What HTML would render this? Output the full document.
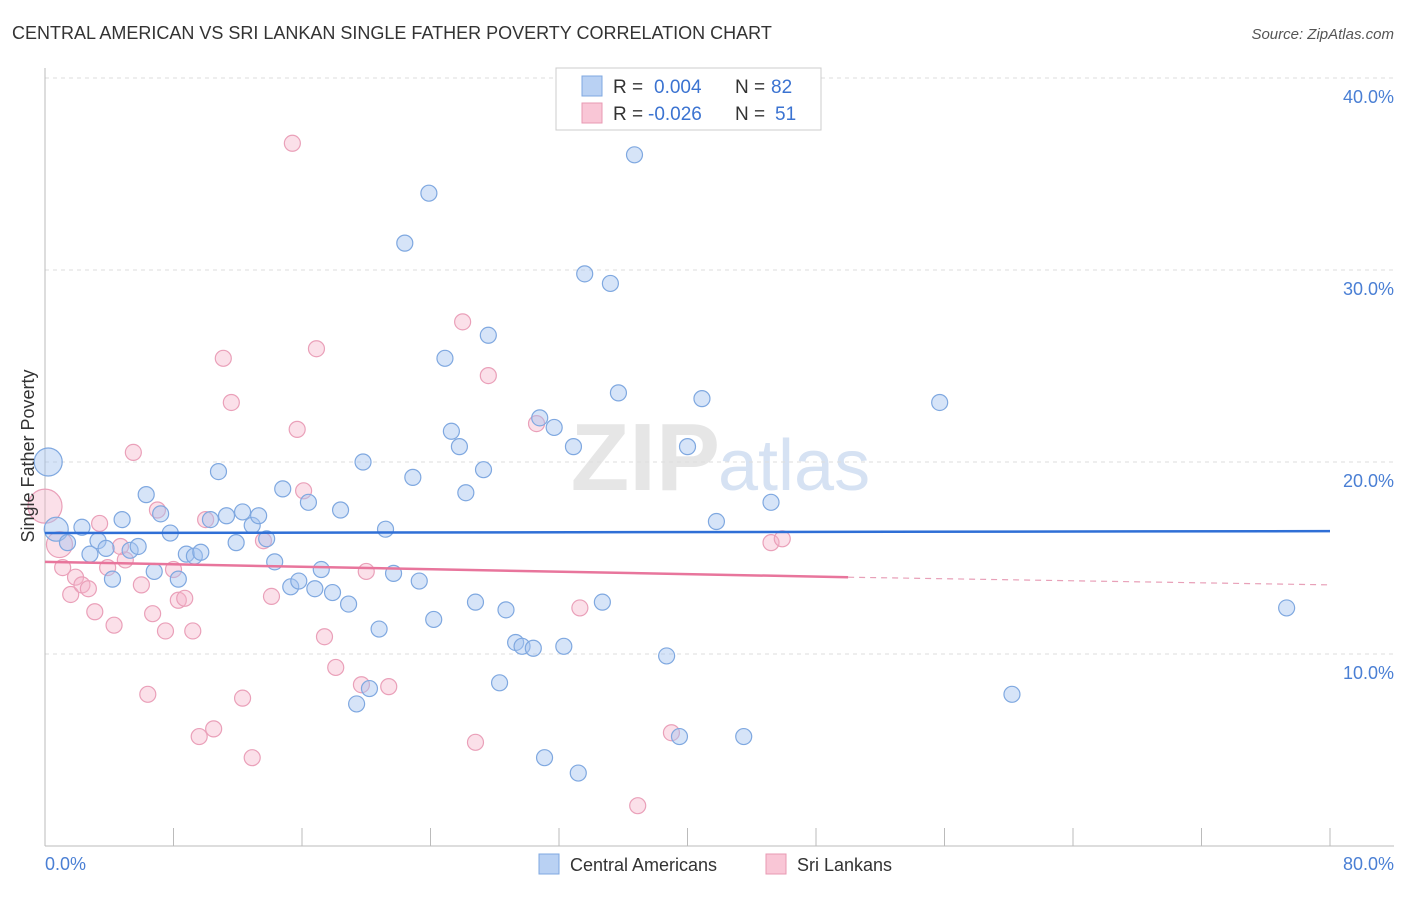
<!DOCTYPE html>
<html><head><meta charset="utf-8">
<style>
body{margin:0;background:#fff;font-family:"Liberation Sans",sans-serif;}
svg text{font-family:"Liberation Sans",sans-serif;}
</style></head>
<body>
<svg id="chart" width="1406" height="892" xmlns="http://www.w3.org/2000/svg">
<text x="12" y="39" font-size="18" fill="#333">CENTRAL AMERICAN VS SRI LANKAN SINGLE FATHER POVERTY CORRELATION CHART</text>
<text x="1394" y="39" font-size="15" fill="#555" font-style="italic" text-anchor="end">Source: ZipAtlas.com</text>
<text x="720" y="490" font-size="96" fill="#e6e6e6" font-family="Liberation Serif" text-anchor="end" font-weight="bold">ZIP</text>
<text x="718" y="490" font-size="72" fill="#d6e2f3">atlas</text>
<g id="grid"></g>
<g id="axes"></g>
<g id="pts"></g>
<g id="trends"></g>
<text transform="translate(34,456) rotate(-90)" font-size="18" fill="#333" text-anchor="middle">Single Father Poverty</text>
<text x="45" y="870" font-size="18" fill="#4a7fd4">0.0%</text>
<text x="1394" y="870" font-size="18" fill="#4a7fd4" text-anchor="end">80.0%</text>
<g>
<rect x="556" y="68" width="265" height="62" fill="#fff" stroke="#ccc"/>
<rect x="582" y="76" width="20" height="20" fill="#b9d1f3" stroke="#7fa8e0"/>
<rect x="582" y="103" width="20" height="20" fill="#f9c6d6" stroke="#e899b3"/>
<text x="613" y="93" font-size="19" fill="#333">R = </text><text x="654" y="93" font-size="19" fill="#3b73d1">0.004</text>
<text x="735" y="93" font-size="19" fill="#333">N = </text><text x="771" y="93" font-size="19" fill="#3b73d1">82</text>
<text x="613" y="120" font-size="19" fill="#333">R = </text><text x="648" y="120" font-size="19" fill="#3b73d1">-0.026</text>
<text x="735" y="120" font-size="19" fill="#333">N = </text><text x="775" y="120" font-size="19" fill="#3b73d1">51</text>
</g>
<g>
<rect x="539" y="854" width="20" height="20" fill="#b9d1f3" stroke="#7fa8e0"/>
<text x="570" y="871" font-size="18" fill="#333">Central Americans</text>
<rect x="766" y="854" width="20" height="20" fill="#f9c6d6" stroke="#e899b3"/>
<text x="797" y="871" font-size="18" fill="#333">Sri Lankans</text>
</g>
</svg>
<script>
const yTicks=[10,20,30,40];
const yTickLabels=["10.0%","20.0%","30.0%","40.0%"];
const blueX=[0.2,0.7,1.4,2.3,2.8,3.3,3.8,4.2,4.8,5.3,5.8,6.3,6.8,7.2,7.8,8.3,8.8,9.3,9.7,10.3,10.8,11.3,11.9,12.3,12.9,13.3,13.8,14.3,14.8,15.3,15.8,16.4,16.8,17.2,17.9,18.4,18.9,19.4,19.8,20.2,20.8,21.2,21.7,22.4,22.9,23.3,23.9,24.2,24.9,25.3,25.8,26.2,26.8,27.3,27.6,28.3,28.7,29.3,29.7,30.4,30.8,31.1,31.7,32.3,32.9,33.2,33.6,34.7,35.2,35.7,36.7,38.7,39.5,40.0,40.9,41.8,43.5,45.2,55.7,60.2,77.3];
const blueY=[20.0,16.5,15.8,16.6,15.2,15.9,15.5,13.9,17.0,15.4,15.6,18.3,14.3,17.3,16.3,13.9,15.2,15.1,15.3,17.0,19.5,17.2,15.8,17.4,16.7,17.2,16.0,14.8,18.6,13.5,13.8,17.9,13.4,14.4,13.2,17.5,12.6,7.4,20.0,8.2,11.3,16.5,14.2,31.4,19.2,13.8,34.0,11.8,25.4,21.6,20.8,18.4,12.7,19.6,26.6,8.5,12.3,10.6,10.4,10.3,22.3,4.6,21.8,10.4,20.8,3.8,29.8,12.7,29.3,23.6,36.0,9.9,5.7,20.8,23.3,16.9,5.7,17.9,23.1,7.9,12.4];
const pinkX=[0.0,0.9,1.1,1.6,1.9,2.3,2.7,3.1,3.4,3.9,4.3,4.7,5.0,5.5,6.0,6.4,6.7,7.0,7.5,8.0,8.3,8.7,9.2,9.6,10.0,10.5,11.1,11.6,12.3,12.9,13.6,14.1,15.4,15.7,16.1,16.9,17.4,18.1,19.7,20.0,21.4,26.0,26.8,27.6,30.6,33.3,36.9,39.0,45.2,45.9];
const pinkY=[17.7,15.7,14.5,13.1,14.0,13.6,13.4,12.2,16.8,14.5,11.5,15.6,14.9,20.5,13.6,7.9,12.1,17.5,11.2,14.4,12.8,12.9,11.2,5.7,17.0,6.1,25.4,23.1,7.7,4.6,15.9,13.0,36.6,21.7,18.5,25.9,10.9,9.3,8.4,14.3,8.3,27.3,5.4,24.5,22.0,12.4,2.1,5.9,15.8,16.0];
const blueTrend=[16.3,16.4];
const pinkTrend=[14.8,14.0,13.6];
const X=v=>45+v*(1285/80), Y=v=>846-v*19.2;
const NS="http://www.w3.org/2000/svg";
function mk(t,a,p){const e=document.createElementNS(NS,t);for(const k in a)e.setAttribute(k,a[k]);p.appendChild(e);return e;}
const grid=document.getElementById('grid'),axes=document.getElementById('axes');
yTicks.forEach((t,i)=>{
 const l=mk('line',{x1:45,x2:1394,y1:Y(t),y2:Y(t),stroke:'#ddd','stroke-dasharray':'4,4'},grid);
 
 
 const tx=mk('text',{x:1394,y:Y(t)+25,'font-size':18,fill:'#4a7fd4','text-anchor':'end'},grid);
 tx.textContent=yTickLabels[i];
 
 
});
const ax=mk('line',{x1:45,x2:45,y1:68,y2:846,stroke:'#bbb'},axes);


const bx=mk('line',{x1:45,x2:1394,y1:846,y2:846,stroke:'#bbb'},axes);


for(let i=0;i<=10;i++){
 const t=mk('line',{x1:X(i*8),x2:X(i*8),y1:828,y2:846,stroke:'#bbb'},axes);
 
 
}
const pts=document.getElementById('pts');
pinkX.forEach((x,i)=>{
 const c=mk('circle',{cx:X(x),cy:Y(pinkY[i]),r:i==0?17:(i==1?13:8),fill:'rgba(246,178,200,0.4)',stroke:'#eaa0b9','stroke-width':1.2},pts);
 
 
});
blueX.forEach((x,i)=>{
 const c=mk('circle',{cx:X(x),cy:Y(blueY[i]),r:i==0?14:(i==1?12:8),fill:'rgba(164,196,240,0.45)',stroke:'#7fa8e0','stroke-width':1.2},pts);
 
 
});
const tr=document.getElementById('trends');
const b=mk('line',{x1:X(0),x2:X(80),y1:Y(blueTrend[0]),y2:Y(blueTrend[1]),stroke:'#2f6fd6','stroke-width':2.5},tr);


const p=mk('line',{x1:X(0),x2:X(50),y1:Y(pinkTrend[0]),y2:Y(pinkTrend[1]),stroke:'#e8759c','stroke-width':2.5},tr);


const pd=mk('line',{x1:X(50),x2:X(80),y1:Y(pinkTrend[1]),y2:Y(pinkTrend[2]),stroke:'#e8a0b8','stroke-width':1.2,'stroke-dasharray':'6,5'},tr);


</script>
</body></html>
